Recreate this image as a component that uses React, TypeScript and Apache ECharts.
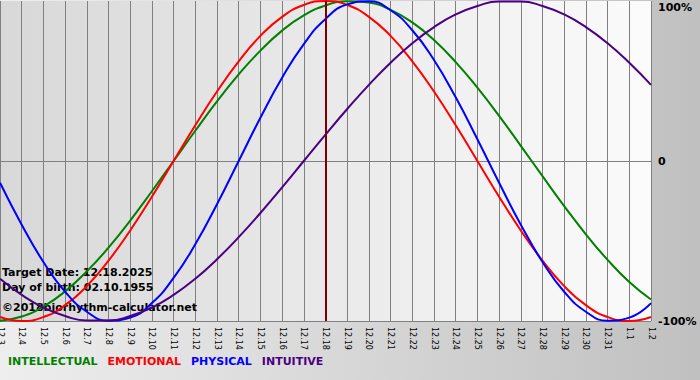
import React, { useEffect, useRef } from "react";
import * as echarts from "echarts";

const categories = [
  "12.3", "12.4", "12.5", "12.6", "12.7", "12.8", "12.9", "12.10", "12.11", "12.12",
  "12.13", "12.14", "12.15", "12.16", "12.17", "12.18", "12.19", "12.20", "12.21", "12.22",
  "12.23", "12.24", "12.25", "12.26", "12.27", "12.28", "12.29", "12.30", "12.31", "1.1", "1.2",
];

const intellectual = [
  -99.9, -97.2, -91.0, -81.5, -69.0, -54.1, -37.2, -18.9, 0, 18.9,
  37.2, 54.1, 69.0, 81.5, 91.0, 97.2, 99.9, 99.0, 94.5, 86.6,
  75.6, 61.8, 45.8, 28.2, 9.5, -9.5, -28.2, -45.8, -61.8, -75.6, -86.6,
];

const emotional = [
  -97.5, -100, -97.5, -90.1, -78.2, -62.3, -43.4, -22.3, 0, 22.3,
  43.4, 62.3, 78.2, 90.1, 97.5, 100, 97.5, 90.1, 78.2, 62.3,
  43.4, 22.3, 0, -22.3, -43.4, -62.3, -78.2, -90.1, -97.5, -100, -97.5,
];

const physical = [
  -13.6, -39.8, -63.1, -81.7, -94.2, -99.8, -97.9, -88.8, -73.1, -52.0,
  -27.0, 0, 27.0, 52.0, 73.1, 88.8, 97.9, 99.8, 94.2, 81.7,
  63.1, 39.8, 13.6, -13.6, -39.8, -63.1, -81.7, -94.2, -99.8, -97.9, -88.8,
];

const intuitive = [
  -73.6, -83.7, -91.6, -96.9, -99.7, -99.7, -96.9, -91.6, -83.7, -73.6,
  -61.4, -47.6, -32.5, -16.5, 0, 16.5, 32.5, 47.6, 61.4, 73.6,
  83.7, 91.6, 96.9, 99.7, 99.7, 96.9, 91.6, 83.7, 73.6, 61.4, 47.6,
];

const seriesNames = ["INTELLECTUAL", "EMOTIONAL", "PHYSICAL", "INTUITIVE"];
const seriesColors = ["#008000", "#ff0000", "#0000ff", "#4b0082"];
const seriesData = [intellectual, emotional, physical, intuitive];

const yTickValues = [-100, 0, 100];
const yTickLabels = ["-100%", "0", "100%"];

const targetDay = "12.18";
const infoLines = [
  "Target Date: 12.18.2025",
  "Day of birth: 02.10.1955",
  "©2018biorhythm-calculator.net",
];

const FONT = "'DejaVu Sans', Verdana, sans-serif";

export default function App() {
  const ref = useRef<HTMLDivElement>(null);

  useEffect(() => {
    if (!ref.current) return;
    const chart = echarts.init(ref.current, undefined, { renderer: "svg" });

    const series: any[] = seriesNames.map((name, i) => ({
      name,
      type: "line",
      data: seriesData[i],
      smooth: true,
      symbol: "none",
      lineStyle: { color: seriesColors[i], width: 2 },
      itemStyle: { color: seriesColors[i] },
      z: 3,
    }));
    series[0].markLine = {
      silent: true,
      symbol: "none",
      label: { show: false },
      lineStyle: { color: "#800000", width: 2, type: "solid" },
      data: [{ xAxis: targetDay }],
      z: 4,
    };

    chart.setOption({
      animation: false,
      backgroundColor: "transparent",
      grid: {
        left: 0,
        right: 49,
        top: 1,
        bottom: 59,
        outerBoundsMode: "none",
        containLabel: false,
        show: true,
        borderWidth: 0,
        backgroundColor: new echarts.graphic.LinearGradient(0, 0, 1, 0, [
          { offset: 0, color: "#d8d8d8" },
          { offset: 1, color: "#fbfbfb" },
        ]),
      },
      legend: {
        show: true,
        left: 3,
        top: 354,
        padding: 0,
        icon: "none",
        itemWidth: 0,
        itemGap: 5,
        selectedMode: false,
        data: seriesNames.map((n, i) => ({
          name: n,
          textStyle: {
            color: seriesColors[i],
            fontWeight: "bold",
            fontSize: 11,
            fontFamily: FONT,
          },
        })),
      },
      xAxis: {
        type: "category",
        data: categories,
        boundaryGap: false,
        axisLine: { show: true, lineStyle: { color: "#808080", width: 1 } },
        axisTick: { show: true, interval: 0, length: 5, lineStyle: { color: "#808080" } },
        splitLine: { show: true, interval: 0, lineStyle: { color: "#808080", width: 1 } },
        axisLabel: {
          interval: 0,
          rotate: -90,
          fontSize: 8,
          color: "#000",
          fontFamily: FONT,
          margin: 6,
        },
      },
      yAxis: {
        type: "value",
        position: "right",
        min: -100,
        max: 100,
        interval: 100,
        axisLine: { show: false },
        axisTick: { show: false },
        splitLine: {
          show: true,
          lineStyle: { color: ["#808080", "#808080", "transparent"], width: 1 },
        },
        axisLabel: {
          margin: 7,
          align: "left",
          color: "#000",
          fontWeight: "bold",
          fontSize: 11,
          fontFamily: FONT,
          formatter: (v: number) => {
            const idx = yTickValues.indexOf(v);
            const txt = idx >= 0 ? yTickLabels[idx] : "";
            return v === 100 ? "{top|" + txt + "}" : txt;
          },
          rich: {
            top: {
              padding: [12, 0, 0, 0],
              color: "#000",
              fontWeight: "bold",
              fontSize: 11,
              fontFamily: FONT,
            },
          },
        },
      },
      graphic: infoLines.map((t, i) => ({
        type: "text",
        left: 2,
        top: [267, 282, 302][i],
        z: 1,
        silent: true,
        style: {
          text: t,
          fill: "#000",
          font: "bold 11px " + FONT,
        },
      })),
      series,
    });

    return () => chart.dispose();
  }, []);

  return (
    <div
      ref={ref}
      style={{
        position: "absolute",
        left: 0,
        top: 0,
        width: 700,
        height: 380,
        background: "linear-gradient(to right, #eeeeee, #c0c0c0)",
      }}
    />
  );
}
